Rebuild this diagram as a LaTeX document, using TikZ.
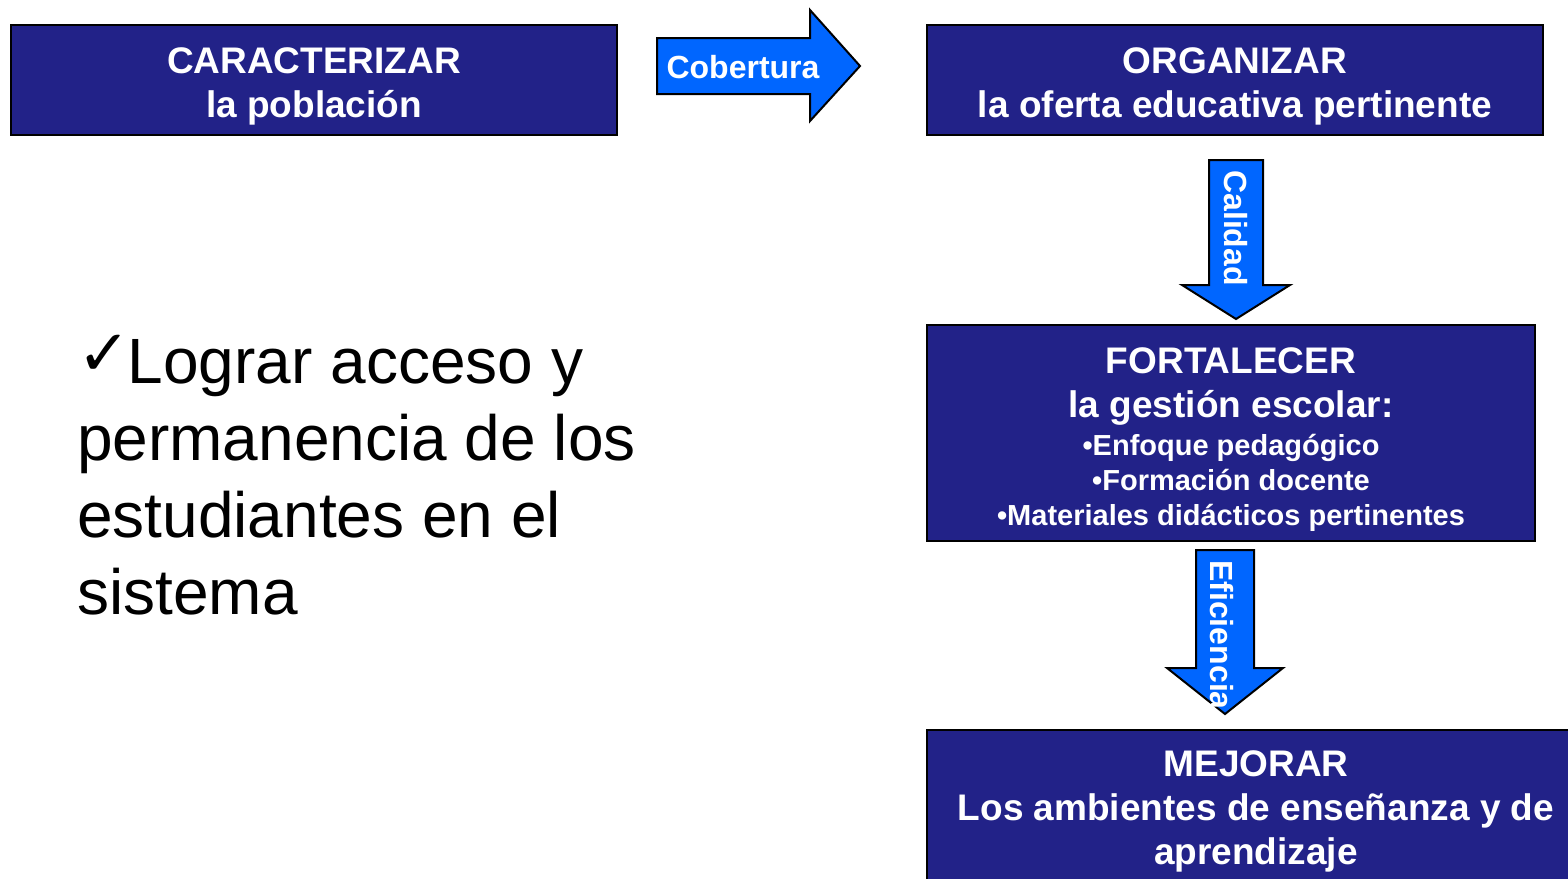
\documentclass[tikz,border=0pt]{standalone}
\usepackage{fontspec}
\setmainfont{Liberation Sans}
\newfontfamily\symfont{DejaVu Sans}
\definecolor{boxblue}{RGB}{34,34,136}
\definecolor{arrowblue}{RGB}{0,102,255}
\newcommand{\toppad}[1]{\rule{0pt}{#1}}
\tikzset{
  stagebox/.style={draw=black, line width=2.5pt, fill=boxblue, text=white,
    font=\bfseries\fontsize{37}{44}\selectfont, align=center, inner sep=0pt,
    text depth=-2pt},
  blockarrow/.style={draw=black, line width=2pt, fill=arrowblue, line join=miter},
  arrowlabel/.style={text=white, font=\bfseries\fontsize{32}{38}\selectfont, inner sep=0pt}
}
\begin{document}
\begin{tikzpicture}[x=1pt,y=-1pt]
\useasboundingbox (0,0) rectangle (1568,878);
\clip (0,0) rectangle (1568,878);

% the four stages
\node[stagebox, minimum width=606pt, minimum height=110pt] (caracterizar) at (314,80)
  {\toppad{31pt}CARACTERIZAR\\la población};
\node[stagebox, minimum width=616pt, minimum height=110pt] (organizar) at (1235,80)
  {\toppad{31pt}ORGANIZAR\\la oferta educativa pertinente};
\node[stagebox, minimum width=608pt, minimum height=216pt, text depth=-5pt,
      font=\bfseries\fontsize{29}{35}\selectfont] (fortalecer) at (1231,433)
  {{\fontsize{37}{44}\selectfont\toppad{33pt}FORTALECER}\\[9pt]
   {\fontsize{37}{44}\selectfont la gestión escolar:}\\[3pt]
   •Enfoque pedagógico\\
   •Formación docente\\
   •Materiales didácticos pertinentes};
\node[stagebox, minimum width=658pt, minimum height=164pt, text depth=8pt] (mejorar) at (1256,812)
  {MEJORAR\\Los ambientes de enseñanza y de\\aprendizaje};

% block arrows
\draw[blockarrow] (657,38) -- (810,38) -- (810,10) -- (860,66) -- (810,121)
  -- (810,94) -- (657,94) -- cycle;
\node[arrowlabel] (cobertura) at (743,67) {Cobertura};

\draw[blockarrow] (1209,160) -- (1263,160) -- (1263,285) -- (1290,285) -- (1236,319)
  -- (1182,285) -- (1209,285) -- cycle;
\node[arrowlabel, rotate=-90] (calidad) at (1236,228) {Calidad};

\draw[blockarrow] (1196,550) -- (1254,550) -- (1254,668) -- (1283,668) -- (1225,714)
  -- (1167,668) -- (1196,668) -- cycle;
\node[arrowlabel, rotate=-90] (eficiencia) at (1222,635) {Eficiencia};

% goal
\node[anchor=north west, align=left, inner sep=0pt,
      font=\fontsize{64}{77}\selectfont] (logro) at (77,335)
  {\raisebox{8pt}{\symfont\bfseries\fontsize{64}{70}\selectfont ✓}\kern-3pt Lograr acceso y\\
   permanencia de los\\
   estudiantes en el\\
   sistema};
\end{tikzpicture}
\end{document}
